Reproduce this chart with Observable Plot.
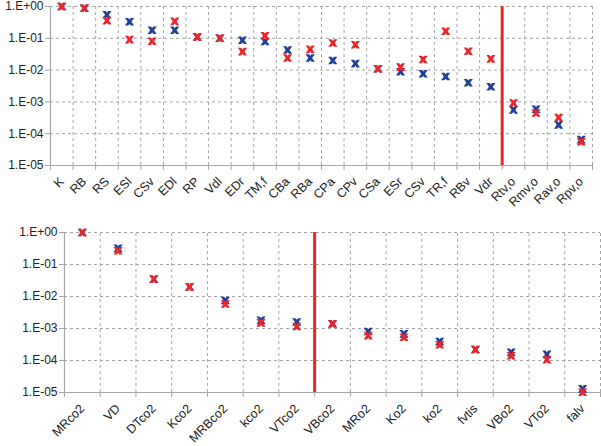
<!DOCTYPE html>
<html>
<head>
<meta charset="utf-8">
<script src="https://cdn.jsdelivr.net/npm/d3@7"></script>
<script src="https://cdn.jsdelivr.net/npm/@observablehq/plot@0.6"></script>
<style>
  html, body { margin: 0; padding: 0; background: #fff; }
  #chart { width: 601px; }
  #chart svg { display: block; }
</style>
</head>
<body>
<div id="chart"></div>
<script>
// ---- Data ----
const topCategories = ["K","RB","RS","ESl","CSv","EDl","RP","Vdl","EDr","TM,f","CBa","RBa","CPa","CPv","CSa","ESr","CSv","TR,f","RBv","Vdr","Rtv,o","Rmv,o","Rav,o","Rpv,o"];
const topBlue = [1.0, 0.88, 0.55, 0.33, 0.18, 0.18, 0.11, 0.10, 0.087, 0.079, 0.043, 0.024, 0.020, 0.016, 0.011, 0.0089, 0.0077, 0.0063, 0.0040, 0.0030, 5.6e-4, 5.9e-4, 1.9e-4, 6.5e-5];
const topRed  = [1.0, 0.88, 0.36, 0.091, 0.081, 0.34, 0.11, 0.10, 0.038, 0.12, 0.024, 0.045, 0.071, 0.063, 0.011, 0.0124, 0.0215, 0.166, 0.039, 0.0225, 9.2e-4, 4.5e-4, 3.2e-4, 5.6e-5];
const topSeparator = 20; // boundary between "Vdr" and "Rtv,o"

const botCategories = ["MRco2","VD","DTco2","Kco2","MRBco2","kco2","VTco2","VBco2","MRo2","Ko2","ko2","fvtis","VBo2","VTo2","falv"];
const botBlue = [1.0, 0.32, 0.035, 0.020, 0.0075, 0.0018, 0.0016, 0.0014, 8.1e-4, 6.8e-4, 3.9e-4, 2.2e-4, 1.8e-4, 1.55e-4, 1.3e-5];
const botRed  = [1.0, 0.27, 0.035, 0.020, 0.0058, 0.0015, 0.00115, 0.0014, 6.0e-4, 5.3e-4, 3.1e-4, 2.2e-4, 1.4e-4, 1.05e-4, 1.02e-5];
const botSeparator = 7; // boundary between "VTco2" and "VBco2"

const yTicks = [1, 1e-1, 1e-2, 1e-3, 1e-4, 1e-5];

// ---- Styling ----
const BLUE = "#21409a";
const RED = "#e8262b";
const GRID = "#a6a6a6";

// bold hourglass-like "X" marker
const xMarker = {
  draw(ctx) {
    const w = 4.6, h = 3.8, n = 1.9, t = 1.3, d = 1.6;
    ctx.moveTo(-w, -h);
    ctx.lineTo(-t, -h);
    ctx.lineTo(0, -h + d);
    ctx.lineTo(t, -h);
    ctx.lineTo(w, -h);
    ctx.lineTo(n, 0);
    ctx.lineTo(w, h);
    ctx.lineTo(t, h);
    ctx.lineTo(0, h - d);
    ctx.lineTo(-t, h);
    ctx.lineTo(-w, h);
    ctx.lineTo(-n, 0);
    ctx.closePath();
  }
};

function fmtExp(v) {
  const e = Math.round(Math.log10(v));
  const s = e < 0 ? "-" : "+";
  return "1.E" + s + String(Math.abs(e)).padStart(2, "0");
}

function panel(cats, blue, red, sep, opts) {
  const n = cats.length;
  const rows = cats.map((c, i) => ({i, c, blue: blue[i], red: red[i]}));
  const bounds = d3.range(1, n + 1);
  return Plot.plot({
    width: 601,
    height: opts.height,
    marginTop: opts.marginTop,
    marginBottom: opts.marginBottom,
    marginLeft: opts.marginLeft,
    marginRight: opts.marginRight,
    style: {fontFamily: "'Liberation Sans', Arial, sans-serif", fontSize: "12px", color: "#222", background: "#fff"},
    x: {type: "linear", domain: [0, n]},
    y: {type: "log", domain: [1e-5, 1]},
    marks: [
      // horizontal dashed gridlines
      Plot.ruleY(yTicks.filter(d => d > 1e-5), {stroke: GRID, strokeDasharray: "3,3", strokeWidth: 1}),
      // vertical dashed gridlines at category boundaries
      Plot.ruleX(bounds, {y1: 1e-5, y2: 1, stroke: GRID, strokeDasharray: "3,3", strokeWidth: 1}),
      // axis lines
      Plot.ruleY([1e-5], {stroke: GRID, strokeWidth: 1.2}),
      Plot.ruleX([0], {y1: 1e-5, y2: 1, stroke: GRID, strokeWidth: 1.2}),
      // x tick marks at boundaries
      Plot.axisX({ticks: d3.range(0, n + 1), tickSize: 5, tickFormat: () => "", stroke: GRID}),
      // x labels at category centers
      Plot.axisX({
        ticks: d3.range(n).map(i => i + 0.5),
        tickSize: 0,
        tickPadding: opts.tickPadding,
        tickRotate: -45,
        tickFormat: v => cats[Math.round(v - 0.5)],
        fill: "#222",
        fontSize: 12.5,
        label: null
      }),
      // y axis
      Plot.axisY({ticks: yTicks, tickSize: 5, tickPadding: 2, tickFormat: fmtExp, stroke: GRID, fill: "#222", fontSize: 12, label: null}),
      // separator
      Plot.ruleX([sep], {y1: 1e-5, y2: 1, stroke: RED, strokeWidth: 3}),
      // series
      Plot.dot(rows, {x: d => d.i + 0.5, y: "blue", symbol: xMarker, fill: BLUE, stroke: "none", r: 4}),
      Plot.dot(rows, {x: d => d.i + 0.5, y: "red", symbol: xMarker, fill: RED, stroke: "none", r: 4})
    ]
  });
}

const chart = document.getElementById("chart");
chart.appendChild(panel(topCategories, topBlue, topRed, topSeparator,
  {height: 225, marginTop: 6, marginBottom: 60, marginLeft: 50, marginRight: 9, tickPadding: 14}));
chart.appendChild(panel(botCategories, botBlue, botRed, botSeparator,
  {height: 221, marginTop: 7, marginBottom: 54, marginLeft: 64, marginRight: 1, tickPadding: 14}));
</script>
</body>
</html>
